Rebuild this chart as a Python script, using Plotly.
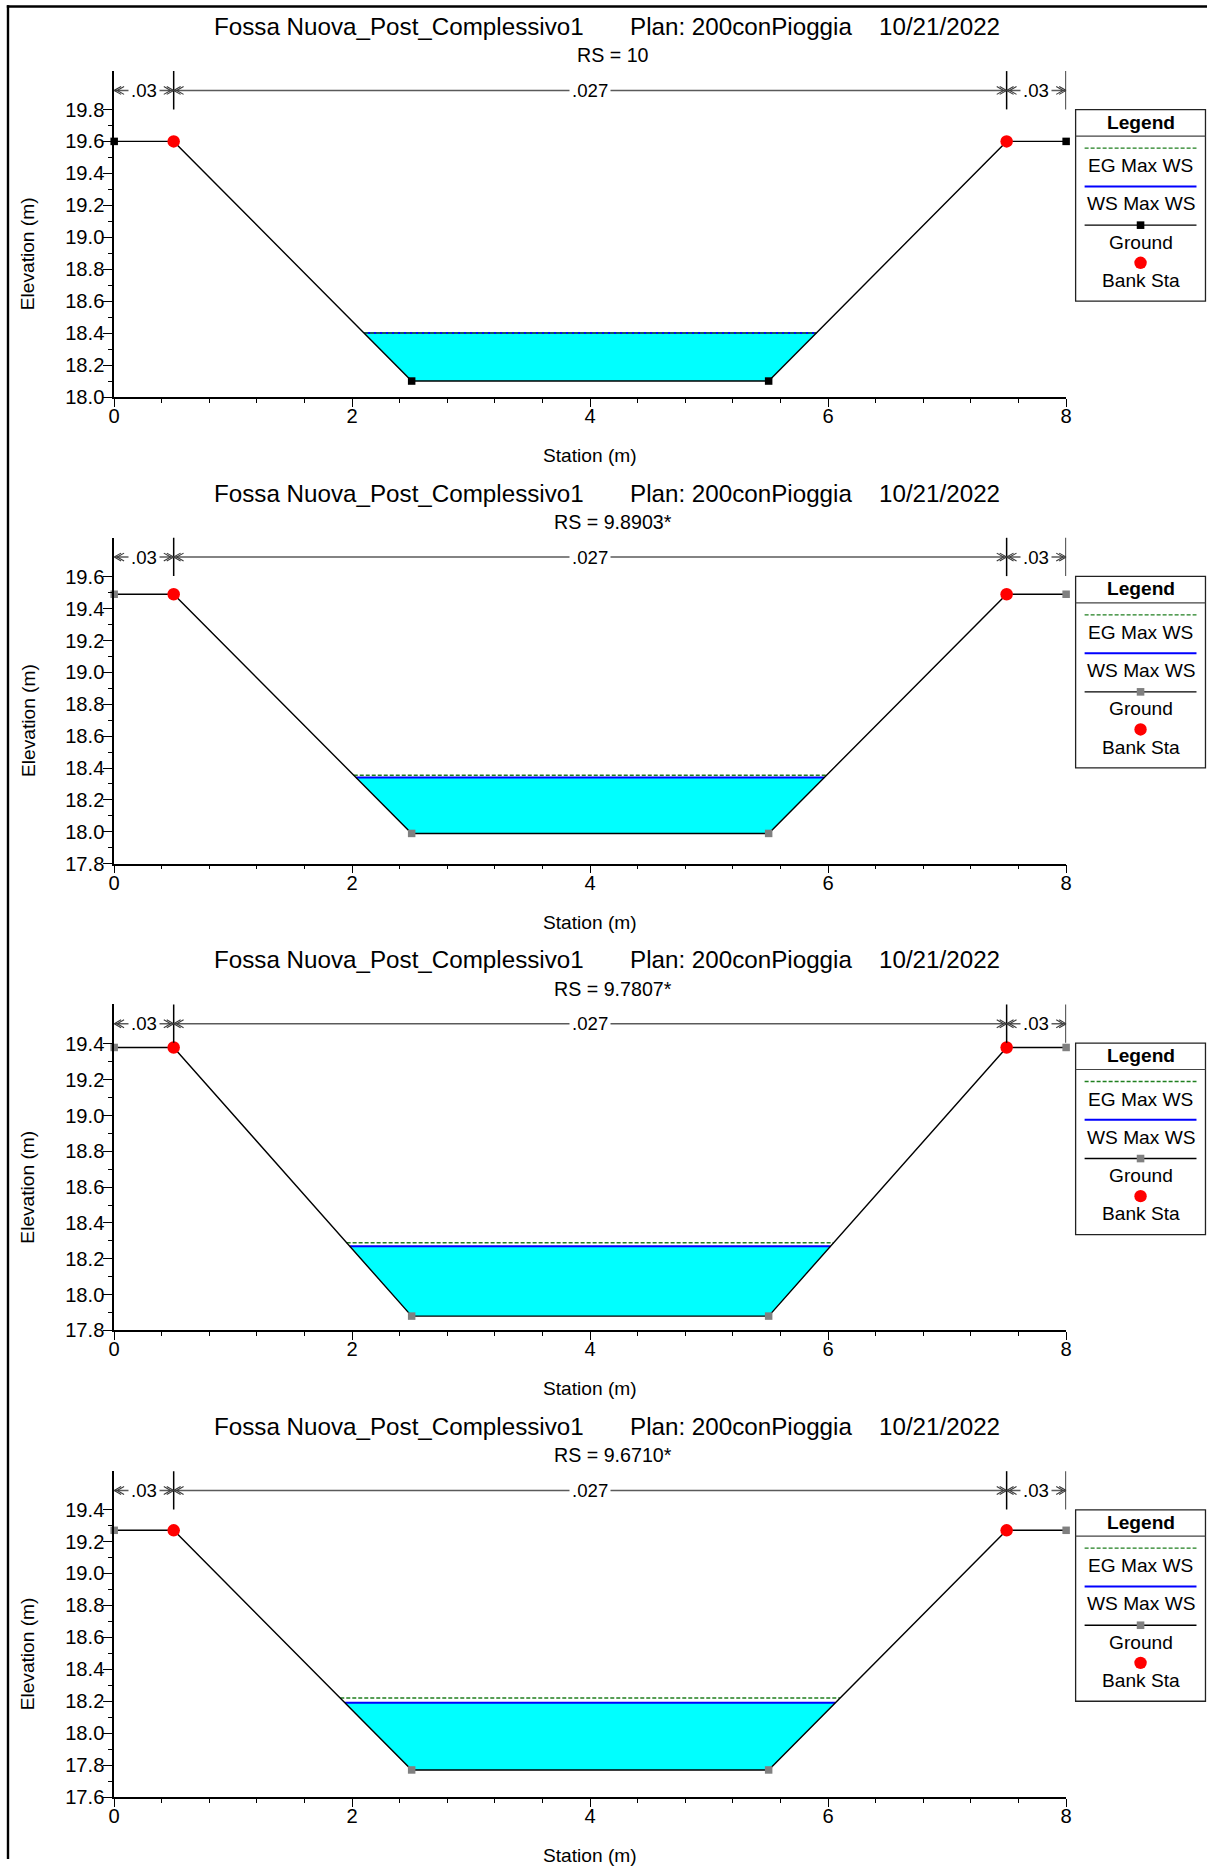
import numpy as np
import plotly.graph_objects as go

W, H = 1213, 1870
FONT = "Liberation Sans, Arial, sans-serif"

# ---------------- data ----------------
title_main = "Fossa Nuova_Post_Complessivo1"
title_plan = "Plan: 200conPioggia"
title_date = "10/21/2022"
rs_labels = ["10", "9.8903*", "9.7807*", "9.6710*"]

stations = [0.0, 0.5, 2.5, 5.5, 7.5, 8.0]
ground_rs10 = [19.60, 19.60, 18.10, 18.10, 19.60, 19.60]
ground_rs98903 = [19.49, 19.49, 17.99, 17.99, 19.49, 19.49]
ground_rs97807 = [19.38, 19.38, 17.88, 17.88, 19.38, 19.38]
ground_rs96710 = [19.27, 19.27, 17.77, 17.77, 19.27, 19.27]
ws_max = [18.40, 18.34, 18.27, 18.19]
eg_max = [18.40, 18.355, 18.29, 18.22]
bank_sta = [0.5, 7.5]

n_breaks = [0.0, 0.5, 7.5, 8.0]
n_values = [".03", ".027", ".03"]

x_ticks = [0, 2, 4, 6, 8]
y_ticks_rs10 = [18.0, 18.2, 18.4, 18.6, 18.8, 19.0, 19.2, 19.4, 19.6, 19.8]
y_ticks_rs98903 = [17.8, 18.0, 18.2, 18.4, 18.6, 18.8, 19.0, 19.2, 19.4, 19.6]
y_ticks_rs97807 = [17.8, 18.0, 18.2, 18.4, 18.6, 18.8, 19.0, 19.2, 19.4]
y_ticks_rs96710 = [17.6, 17.8, 18.0, 18.2, 18.4, 18.6, 18.8, 19.0, 19.2, 19.4]
legend_labels = ["EG Max WS", "WS Max WS", "Ground", "Bank Sta"]

grounds = [ground_rs10, ground_rs98903, ground_rs97807, ground_rs96710]
yticks_all = [y_ticks_rs10, y_ticks_rs98903, y_ticks_rs97807, y_ticks_rs96710]

# ---------------- layout geometry (target pixels) ----------------
X0, X1 = 112.5, 1065.5
PTOP = [70.7, 537.2, 1003.7, 1470.2]
PH = 325.8
YTOP_RANGE = [20.04, 19.844, 19.62, 19.64]
GROUND_MARKER = ["black", "#808080", "#808080", "#808080"]
EG_COLOR = "#1F7F1F"

# small correction for the capture pipeline scale
SX, CX = 0.9912, 4.2
SY, CY = 0.9937, -0.36
FS = 1.0 / 0.992

def fx(x):
    return (x - CX) / SX

def fy(y):
    return (y - CY) / SY

def px(x):
    return fx(x) / W

def py(y):
    return 1 - fy(y) / H

def f(sz):
    return sz * FS

def crossings(xs, zs, h):
    out = []
    for i in range(len(xs) - 1):
        a, b = zs[i] - h, zs[i + 1] - h
        if a * b < 0:
            out.append(xs[i] + (h - zs[i]) * (xs[i + 1] - xs[i]) / (zs[i + 1] - zs[i]))
    return out

fig = go.Figure()
shapes = []
annots = []

# page frame (left and top)
shapes.append(dict(type="line", xref="paper", yref="paper", x0=px(5), x1=1, y0=py(6.2), y1=py(6.2),
                   line=dict(color="black", width=2.4)))
shapes.append(dict(type="line", xref="paper", yref="paper", x0=px(6.2), x1=px(6.2), y0=py(5), y1=0,
                   line=dict(color="black", width=2.4)))

for k in range(4):
    ax = "" if k == 0 else str(k + 1)
    xr, yr = "x" + ax, "y" + ax
    top = PTOP[k]
    bot = top + PH
    g = grounds[k]
    ylo = yticks_all[k][0]
    yhi = YTOP_RANGE[k]
    ph_fig = fy(bot) - fy(top)
    pw_fig = fx(X1) - fx(X0)

    xminor = [round(v, 2) for v in np.arange(0, 8.001, 0.4) if abs(v / 2 - round(v / 2)) > 1e-6]
    yt = yticks_all[k]
    yminor = [round(v + 0.1, 2) for v in yt[:-1]]

    fig.layout["xaxis" + ax] = dict(
        domain=[px(X0), px(X1)], anchor=yr, range=[0, 8], fixedrange=True,
        showline=True, linecolor="black", linewidth=1.5, showgrid=False, zeroline=False,
        ticks="outside", tickmode="array", tickvals=x_ticks, ticklen=8, tickwidth=1.3,
        tickcolor="black", ticklabelstandoff=-8,
        tickfont=dict(family=FONT, size=f(20), color="black"),
        minor=dict(tickmode="array", tickvals=xminor, ticks="outside", ticklen=4,
                   tickwidth=1.2, tickcolor="black", showgrid=False))
    fig.layout["yaxis" + ax] = dict(
        domain=[py(bot), py(top)], anchor=xr, range=[ylo, yhi], fixedrange=True,
        showline=True, linecolor="black", linewidth=1.5, showgrid=False, zeroline=False,
        ticks="outside", tickmode="array", tickvals=yt, ticktext=[f"{v:.1f}" for v in yt],
        ticklen=9, tickwidth=1.3, tickcolor="black", ticklabelstandoff=-5,
        tickfont=dict(family=FONT, size=f(20), color="black"),
        minor=dict(tickmode="array", tickvals=yminor, ticks="outside", ticklen=4.5,
                   tickwidth=1.2, tickcolor="black", showgrid=False))

    # water polygon
    ws = ws_max[k]
    cx = crossings(stations, g, ws)
    xl, xrr = cx[0], cx[-1]
    inner = [(s, z) for s, z in zip(stations, g) if xl < s < xrr and z < ws]
    polx = [xl] + [p[0] for p in inner] + [xrr, xl]
    poly = [ws] + [p[1] for p in inner] + [ws, ws]
    fig.add_trace(go.Scatter(x=polx, y=poly, xaxis=xr, yaxis=yr, mode="lines",
                             fill="toself", fillcolor="#00FFFF", line=dict(width=0),
                             showlegend=False, hoverinfo="skip"))
    fig.add_trace(go.Scatter(x=[xl, xrr], y=[ws, ws], xaxis=xr, yaxis=yr, mode="lines",
                             line=dict(color="#0000FF", width=2), showlegend=False))
    eg = eg_max[k]
    ce = crossings(stations, g, eg)
    fig.add_trace(go.Scatter(x=[ce[0], ce[-1]], y=[eg, eg], xaxis=xr, yaxis=yr, mode="lines",
                             line=dict(color=EG_COLOR, width=1.5, dash="4px,2px"),
                             showlegend=False))
    # ground
    fig.add_trace(go.Scatter(x=stations, y=g, xaxis=xr, yaxis=yr, mode="lines+markers",
                             line=dict(color="black", width=1.4), cliponaxis=False,
                             marker=dict(symbol="square", size=7.5, color=GROUND_MARKER[k]),
                             showlegend=False))
    # bank stations
    bz = list(np.interp(bank_sta, stations, g))
    fig.add_trace(go.Scatter(x=bank_sta, y=bz, xaxis=xr, yaxis=yr, mode="markers",
                             marker=dict(symbol="circle", size=12.5, color="#FF0000"),
                             cliponaxis=False, showlegend=False))

    # n-values row
    ydr = yr + " domain"
    sep_lo = 1 - 38.3 / PH
    row = 1 - 19.3 / PH
    shapes.append(dict(type="line", xref=xr, yref=ydr, x0=n_breaks[0], x1=n_breaks[-1],
                       y0=row, y1=row, line=dict(color="#5A5A5A", width=1.5)))
    for b in n_breaks[1:]:
        shapes.append(dict(type="line", xref=xr, yref=ydr, x0=b, x1=b, y0=sep_lo, y1=1,
                           line=dict(color="black", width=1.5)))
    ux = 8.0 / pw_fig
    uy = 1.0 / ph_fig
    for i in range(len(n_values)):
        a, b = n_breaks[i], n_breaks[i + 1]
        for tip, d in ((a, 1), (b, -1)):
            for off in (0, 3):
                t = tip + d * off * ux
                path = (f"M {t + d * 7 * ux},{row + 4 * uy} L {t},{row} "
                        f"L {t + d * 7 * ux},{row - 4 * uy}")
                shapes.append(dict(type="path", xref=xr, yref=ydr, path=path,
                                   line=dict(color="#3A3A3A", width=1.1)))
        annots.append(dict(x=(a + b) / 2, y=row, xref=xr, yref=ydr, text=n_values[i],
                           showarrow=False, bgcolor="white", borderpad=2,
                           font=dict(family=FONT, size=f(18.5), color="black"),
                           xanchor="center", yanchor="middle"))

    # titles
    for txt, xc in ((title_main, 398), (title_plan, 740.5), (title_date, 939)):
        annots.append(dict(x=px(xc), y=py(top - 44.7), xref="paper", yref="paper", text=txt,
                           showarrow=False, xanchor="center", yanchor="middle",
                           font=dict(family=FONT, size=f(24), color="black")))
    annots.append(dict(x=px(612), y=py(top - 15.7), xref="paper", yref="paper",
                       text="RS = " + rs_labels[k], showarrow=False, xanchor="center",
                       yanchor="middle", font=dict(family=FONT, size=f(19.5), color="black")))
    # axis titles
    annots.append(dict(x=px(26), y=py(top + 182.3), xref="paper", yref="paper",
                       text="Elevation (m)", textangle=-90, showarrow=False,
                       xanchor="center", yanchor="middle",
                       font=dict(family=FONT, size=f(19), color="black")))
    annots.append(dict(x=px((X0 + X1) / 2), y=py(bot + 58.5), xref="paper", yref="paper",
                       text="Station (m)", showarrow=False, xanchor="center", yanchor="middle",
                       font=dict(family=FONT, size=f(19), color="black")))

    # legend box
    lx0, lx1 = 1075, 1205
    lt = top + 38.6
    lb = top + 230
    lc = (lx0 + lx1) / 2
    shapes.append(dict(type="rect", xref="paper", yref="paper", x0=px(lx0), x1=px(lx1),
                       y0=py(lb), y1=py(lt), line=dict(color="#222222", width=1.3),
                       fillcolor="white", layer="above"))
    shapes.append(dict(type="line", xref="paper", yref="paper", x0=px(lx0), x1=px(lx1),
                       y0=py(lt + 26.4), y1=py(lt + 26.4), line=dict(color="#444444", width=1.2)))
    annots.append(dict(x=px(lc), y=py(lt + 12.5), xref="paper", yref="paper", text="<b>Legend</b>",
                       showarrow=False, xanchor="center", yanchor="middle",
                       font=dict(family=FONT, size=f(19), color="black")))
    shapes.append(dict(type="line", xref="paper", yref="paper", x0=px(1084), x1=px(1196),
                       y0=py(lt + 38.4), y1=py(lt + 38.4),
                       line=dict(color=EG_COLOR, width=1.3, dash="4px,2px")))
    shapes.append(dict(type="line", xref="paper", yref="paper", x0=px(1084), x1=px(1196),
                       y0=py(lt + 76.7), y1=py(lt + 76.7), line=dict(color="#0000FF", width=2)))
    shapes.append(dict(type="line", xref="paper", yref="paper", x0=px(1084), x1=px(1196),
                       y0=py(lt + 115.4), y1=py(lt + 115.4), line=dict(color="black", width=1.4)))
    shapes.append(dict(type="rect", xref="paper", yref="paper", x0=px(lc - 3.8), x1=px(lc + 3.8),
                       y0=py(lt + 115.4 + 3.8), y1=py(lt + 115.4 - 3.8),
                       fillcolor=GROUND_MARKER[k], line=dict(width=0), layer="above"))
    shapes.append(dict(type="circle", xref="paper", yref="paper", x0=px(lc - 6.2), x1=px(lc + 6.2),
                       y0=py(lt + 153 + 6.2), y1=py(lt + 153 - 6.2),
                       fillcolor="#FF0000", line=dict(width=0), layer="above"))
    for lab, dy in zip(legend_labels, (56, 94, 132.4, 170.7)):
        annots.append(dict(x=px(lc), y=py(lt + dy), xref="paper", yref="paper", text=lab,
                           showarrow=False, xanchor="center", yanchor="middle",
                           font=dict(family=FONT, size=f(19), color="black")))

fig.update_layout(width=W, height=H, autosize=False, margin=dict(l=0, r=0, t=0, b=0),
                  paper_bgcolor="white", plot_bgcolor="white", showlegend=False,
                  shapes=shapes, annotations=annots, font=dict(family=FONT, color="black"))

fig.write_html("out.html", include_plotlyjs=True, config={"displayModeBar": False},
               post_script="document.body.style.margin='0';document.body.style.overflow='hidden';")
